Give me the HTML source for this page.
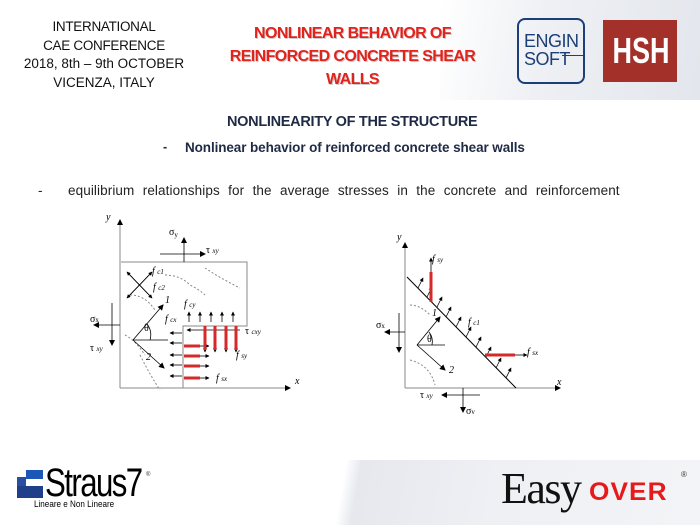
<!DOCTYPE html>
<html><head><meta charset="utf-8"><style>
body{margin:0;width:700px;height:525px;overflow:hidden;background:#fff;font-family:"Liberation Sans",sans-serif;position:relative}
.a{position:absolute;white-space:nowrap}
</style></head><body>
<div class="a" style="left:440px;top:0;width:260px;height:100px;background:linear-gradient(100deg,#fff 0%,#eef0f4 40%,#e3e6ec 100%)"></div>
<div class="a" style="left:190px;top:460px;width:510px;height:65px;background:linear-gradient(100deg,#fff 0%,#fff 30%,#e6e8ee 33%,#eef0f4 60%,#f3f4f7 100%)"></div>

<div class="a" style="left:0;top:18px;width:208px;text-align:center;font-size:13.5px;line-height:18.5px;color:#111">
<span style="letter-spacing:-0.3px">INTERNATIONAL<br>CAE CONFERENCE</span><br>2018, 8th – 9th OCTOBER<br>VICENZA, ITALY</div>

<div class="a" style="left:200px;top:22px;width:305px;text-align:center;font-size:16px;line-height:23px;font-weight:bold;color:#e3221c;text-shadow:1px 1px 0 #ccc;letter-spacing:-0.6px">NONLINEAR BEHAVIOR OF<br>REINFORCED CONCRETE SHEAR<br>WALLS</div>

<div class="a" style="left:517px;top:18px;width:68px;height:66px;border:2px solid #1c3f7a;border-radius:8px;box-sizing:border-box"></div>
<div class="a" style="left:524px;top:32px;font-size:18px;line-height:18px;color:#1c3f7a;letter-spacing:-0.5px">ENGIN<br>SOFT</div>
<div class="a" style="left:562px;top:55px;width:23px;height:1px;background:#1c3f7a"></div>
<div class="a" style="left:603px;top:20px;width:74px;height:62px;background:#a4302a;color:#fff;font-weight:bold;font-size:36px;line-height:62px;text-align:center"><span style="display:inline-block;transform:scaleX(0.75)">HSH</span></div>

<div class="a" style="left:227px;top:114px;font-size:14.5px;font-weight:bold;color:#1f2a44;letter-spacing:-0.3px">NONLINEARITY OF THE STRUCTURE</div>
<div class="a" style="left:163px;top:140px;font-size:12.5px;font-weight:bold;color:#1f2a44">-</div>
<div class="a" style="left:185px;top:140px;font-size:13.5px;font-weight:bold;color:#1f2a44;letter-spacing:-0.1px">Nonlinear behavior of reinforced concrete shear walls</div>
<div class="a" style="left:38px;top:183px;font-size:13.5px;color:#222">-</div>
<div class="a" style="left:68px;top:183px;font-size:13.5px;color:#222;word-spacing:4.5px;letter-spacing:0.1px">equilibrium relationships for the average stresses in the concrete and reinforcement</div>

<svg class="a" style="left:0;top:0" width="700" height="525" font-family="Liberation Serif,serif" font-style="italic" font-size="10">
<defs><marker id="m" markerWidth="6" markerHeight="6" refX="5" refY="3" orient="auto" markerUnits="userSpaceOnUse"><path d="M0,0 L6,3 L0,6z" fill="#000" stroke="none"/></marker>
<marker id="s" markerWidth="4" markerHeight="4" refX="3.5" refY="2" orient="auto" markerUnits="userSpaceOnUse"><path d="M0,0 L4,2 L0,4z" fill="#000" stroke="none"/></marker></defs>
<g stroke="#888" fill="none" stroke-width="1">
<line x1="120" y1="388" x2="120" y2="220" marker-end="url(#m)"/>
<line x1="120" y1="388" x2="290" y2="388" marker-end="url(#m)"/>
<polyline points="121,262 247,262 247,326 183,326 183,388"/>
<line x1="405" y1="388" x2="405" y2="243" marker-end="url(#m)"/>
<line x1="405" y1="388" x2="560" y2="388" marker-end="url(#m)"/>
<path d="M165,275 q15,0 25,10 q10,5 15,10 M130,295 q15,0 25,15 M125,335 q10,5 20,20 M140,355 q10,20 20,35 M205,268 q15,10 35,20 M410,305 q10,0 20,10 M410,360 q20,5 25,25" stroke-dasharray="2,2"/>
</g>
<g stroke="#000" stroke-width="0.8" fill="none">
<line x1="184" y1="262" x2="184" y2="238" marker-end="url(#m)"/>
<line x1="160" y1="254" x2="205" y2="254" marker-end="url(#m)"/>
<line x1="120" y1="325" x2="94" y2="325" marker-end="url(#m)"/>
<line x1="112" y1="303" x2="112" y2="345" marker-end="url(#m)"/>
<line x1="127" y1="298" x2="152" y2="272" marker-end="url(#s)"/><line x1="152" y1="298" x2="127" y2="272" marker-end="url(#s)"/>
<line x1="127" y1="272" x2="152" y2="298" marker-end="url(#s)"/><line x1="152" y1="272" x2="127" y2="298" marker-end="url(#s)"/>
<line x1="133" y1="340" x2="163" y2="305" marker-end="url(#m)"/>
<line x1="133" y1="340" x2="164" y2="368" marker-end="url(#m)"/>
<line x1="133" y1="340" x2="168" y2="340"/>
<path d="M147,324 a18,18 0 0 1 3,16"/>
<g marker-end="url(#s)">
<line x1="189" y1="322" x2="189" y2="312"/><line x1="200" y1="322" x2="200" y2="312"/><line x1="211" y1="322" x2="211" y2="312"/><line x1="222" y1="322" x2="222" y2="312"/><line x1="233" y1="322" x2="233" y2="312"/>
<line x1="182" y1="333" x2="170" y2="333"/><line x1="182" y1="343" x2="170" y2="343"/><line x1="182" y1="355" x2="170" y2="355"/><line x1="182" y1="365" x2="170" y2="365"/><line x1="182" y1="376" x2="170" y2="376"/>
<line x1="205" y1="345" x2="205" y2="352"/><line x1="215" y1="345" x2="215" y2="352"/><line x1="226" y1="345" x2="226" y2="352"/><line x1="236" y1="345" x2="236" y2="352"/>
<line x1="200" y1="346" x2="209" y2="346"/><line x1="200" y1="356" x2="209" y2="356"/><line x1="200" y1="366" x2="209" y2="366"/><line x1="200" y1="378" x2="209" y2="378"/>
<line x1="240" y1="330" x2="187" y2="330"/>
</g>
<line x1="407" y1="277" x2="516" y2="388" stroke-width="1"/>
<line x1="405" y1="332" x2="385" y2="332" marker-end="url(#m)"/>
<line x1="399" y1="313" x2="399" y2="352" marker-end="url(#m)"/>
<line x1="480" y1="395" x2="442" y2="395" marker-end="url(#m)"/>
<line x1="463" y1="388" x2="463" y2="412" marker-end="url(#m)"/>
<line x1="417" y1="345" x2="440" y2="317" marker-end="url(#m)"/>
<line x1="417" y1="345" x2="445" y2="370" marker-end="url(#m)"/>
<line x1="417" y1="345" x2="445" y2="345"/>
<path d="M429,332 a16,16 0 0 1 3,13"/>
<line x1="431" y1="272" x2="431" y2="258" marker-end="url(#s)"/>
<line x1="515" y1="355" x2="527" y2="355" marker-end="url(#s)"/>
<g marker-end="url(#s)">
<line x1="418" y1="288" x2="423" y2="278"/><line x1="427" y1="297" x2="432" y2="287"/><line x1="437" y1="307" x2="442" y2="297"/><line x1="446" y1="317" x2="451" y2="307"/><line x1="456" y1="327" x2="461" y2="317"/><line x1="466" y1="337" x2="471" y2="327"/><line x1="476" y1="347" x2="481" y2="337"/><line x1="486" y1="357" x2="491" y2="347"/><line x1="496" y1="368" x2="501" y2="358"/><line x1="506" y1="378" x2="511" y2="368"/>
</g>
</g>
<g stroke="#d42a2a" stroke-width="3">
<line x1="205" y1="326" x2="205" y2="350"/><line x1="215" y1="326" x2="215" y2="350"/><line x1="226" y1="326" x2="226" y2="350"/><line x1="236" y1="326" x2="236" y2="350"/>
<line x1="184" y1="346" x2="200" y2="346"/><line x1="184" y1="356" x2="200" y2="356"/><line x1="184" y1="366" x2="200" y2="366"/><line x1="184" y1="378" x2="200" y2="378"/>
<line x1="431" y1="272" x2="431" y2="302"/><line x1="485" y1="355" x2="515" y2="355"/>
</g>
<g fill="#000">
<text x="106" y="220">y</text><text x="295" y="384">x</text>
<text x="169" y="235" font-style="normal">σ<tspan font-size="7" dy="2">y</tspan></text>
<text x="206" y="253" font-style="normal">τ <tspan font-size="7" font-style="italic">xy</tspan></text>
<text x="90" y="322" font-style="normal">σ<tspan font-size="7">x</tspan></text>
<text x="90" y="351" font-style="normal">τ <tspan font-size="7" font-style="italic">xy</tspan></text>
<text x="152" y="274">f <tspan font-size="7">c1</tspan></text><text x="153" y="290">f <tspan font-size="7">c2</tspan></text>
<text x="165" y="303">1</text><text x="146" y="360">2</text>
<text x="144" y="331" font-style="normal">θ</text>
<text x="184" y="307">f <tspan font-size="7">cy</tspan></text><text x="165" y="322">f <tspan font-size="7">cx</tspan></text>
<text x="245" y="334" font-style="normal">τ <tspan font-size="7" font-style="italic">cxy</tspan></text>
<text x="236" y="358">f <tspan font-size="7">sy</tspan></text><text x="216" y="381">f <tspan font-size="7">sx</tspan></text>
<text x="397" y="240">y</text><text x="557" y="385">x</text>
<text x="432" y="262">f <tspan font-size="7">sy</tspan></text>
<text x="468" y="325">f <tspan font-size="7">c1</tspan></text>
<text x="527" y="355">f <tspan font-size="7">sx</tspan></text>
<text x="376" y="328" font-style="normal">σ<tspan font-size="7">x</tspan></text>
<text x="432" y="316">1</text><text x="449" y="373">2</text>
<text x="427" y="342" font-style="normal">θ</text>
<text x="420" y="398" font-style="normal">τ <tspan font-size="7" font-style="italic">xy</tspan></text>
<text x="466" y="414" font-style="normal">σ<tspan font-size="7">v</tspan></text>
</g>
</svg>

<div class="a" style="left:17px;top:477px;width:9px;height:9px;background:#2a4fa0"></div>
<div class="a" style="left:26px;top:470px;width:17px;height:9px;background:#1c57b8"></div>
<div class="a" style="left:17px;top:486px;width:26px;height:12px;background:#1f3f8a"></div>
<div class="a" style="left:45px;top:461px;font-size:40px;letter-spacing:-2px;color:#000;transform:scaleX(0.78);transform-origin:left">Straus7</div>
<div class="a" style="left:146px;top:472px;font-size:6px;color:#333">®</div>
<div class="a" style="left:34px;top:499px;font-size:9px;color:#000;transform:scaleX(0.9);transform-origin:left">Lineare e Non Lineare</div>

<div class="a" style="left:501px;top:463px;font-family:'Liberation Serif',serif;font-size:44px;color:#111;letter-spacing:-1.5px">Easy</div>
<div class="a" style="left:589px;top:478px;font-size:25px;font-weight:bold;color:#e51b1b;letter-spacing:1px;transform:scaleX(1.05);transform-origin:left">OVER</div>
<div class="a" style="left:681px;top:470px;font-size:8px;color:#333">®</div>
</body></html>
